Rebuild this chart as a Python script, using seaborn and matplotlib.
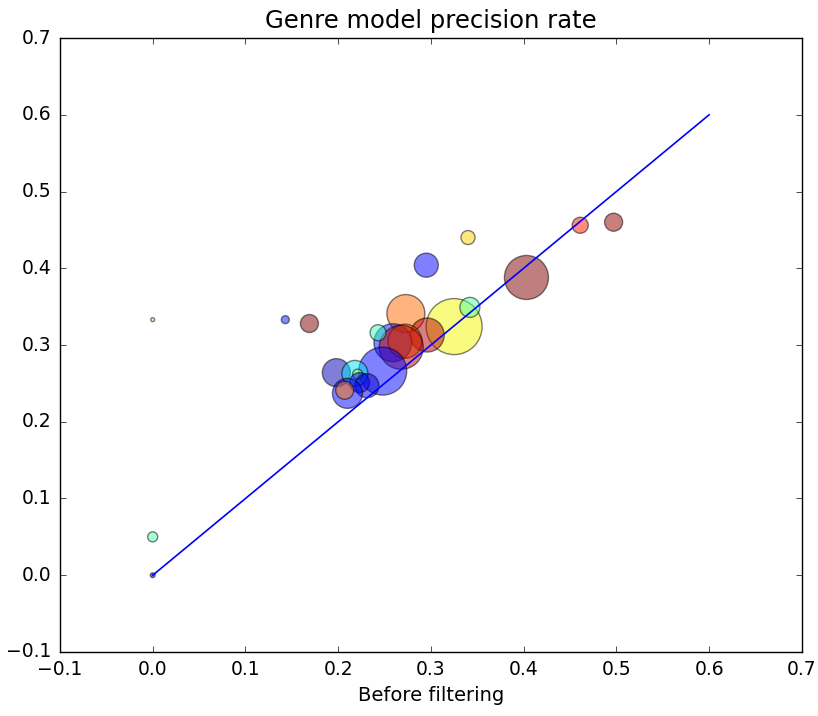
import matplotlib
matplotlib.use("Agg")
import matplotlib.pyplot as plt
import seaborn as sns
import pandas as pd
import numpy as np

# data
before = [0.0, 0.0, 0.0, 0.143, 0.169, 0.34, 0.295, 0.403, 0.461, 0.497,
          0.325, 0.342, 0.273, 0.296, 0.259, 0.272, 0.268, 0.243, 0.248,
          0.198, 0.218, 0.221, 0.223, 0.231, 0.210, 0.207]
after = [0.333, 0.05, 0.0, 0.333, 0.328, 0.44, 0.404, 0.388, 0.456, 0.46,
         0.324, 0.349, 0.341, 0.313, 0.303, 0.305, 0.297, 0.316, 0.266,
         0.264, 0.263, 0.262, 0.251, 0.247, 0.237, 0.241]
# bubble sizes (points^2)
sizes = [8, 52, 12, 33, 168, 102, 300, 1004, 133, 168,
         1626, 207, 748, 599, 748, 600, 1004, 133, 1194,
         406, 350, 52, 207, 300, 467, 168]
# colour value on the jet colormap
colour_vals = [0.55, 0.45, 0.0, 0.15, 1.0, 0.69, 0.12, 1.0, 0.88, 0.98,
               0.645, 0.45, 0.80, 0.95, 0.15, 0.81, 0.95, 0.42, 0.13,
               0.05, 0.35, 0.55, 0.12, 0.08, 0.13, 0.78]
line_x = [0.0, 0.6]
line_y = [0.0, 0.6]

plt.style.use("classic")
plt.rcParams["figure.facecolor"] = "white"
plt.rcParams["savefig.facecolor"] = "white"
plt.rcParams["font.family"] = ["DejaVu Sans"]

df = pd.DataFrame({"before": before, "after": after,
                   "id": [str(i) for i in range(len(before))]})
cmap = plt.get_cmap("jet")
palette = {str(i): cmap(v) for i, v in enumerate(colour_vals)}
size_map = {str(i): s for i, s in enumerate(sizes)}

fig = plt.figure(figsize=(8.18, 7.16), dpi=100)
ax = fig.add_axes([0.0733, 0.0894, 0.907, 0.8575])

sns.scatterplot(data=df, x="before", y="after", hue="id", palette=palette,
                size="id", sizes=size_map, alpha=0.5, edgecolor="black",
                linewidth=1, legend=False, ax=ax, zorder=1)
sns.lineplot(x=line_x, y=line_y, color="blue", linewidth=1.2, ax=ax,
             zorder=2, estimator=None, sort=False)

ax.set_xlim(-0.1, 0.7)
ax.set_ylim(-0.1, 0.7)
ax.set_xticks(np.arange(-0.1, 0.71, 0.1))
ax.set_yticks(np.arange(-0.1, 0.71, 0.1))
labels = ["\u22120.1", "0.0", "0.1", "0.2", "0.3", "0.4", "0.5", "0.6", "0.7"]
ax.set_xticklabels(labels)
ax.set_yticklabels(labels)
ax.tick_params(labelsize=13.5, pad=6)
ax.set_title("Genre model precision rate", fontsize=17.5, pad=7)
ax.set_xlabel("Before filtering", fontsize=14)
ax.set_ylabel("")

fig.savefig("out.png", dpi=100)
